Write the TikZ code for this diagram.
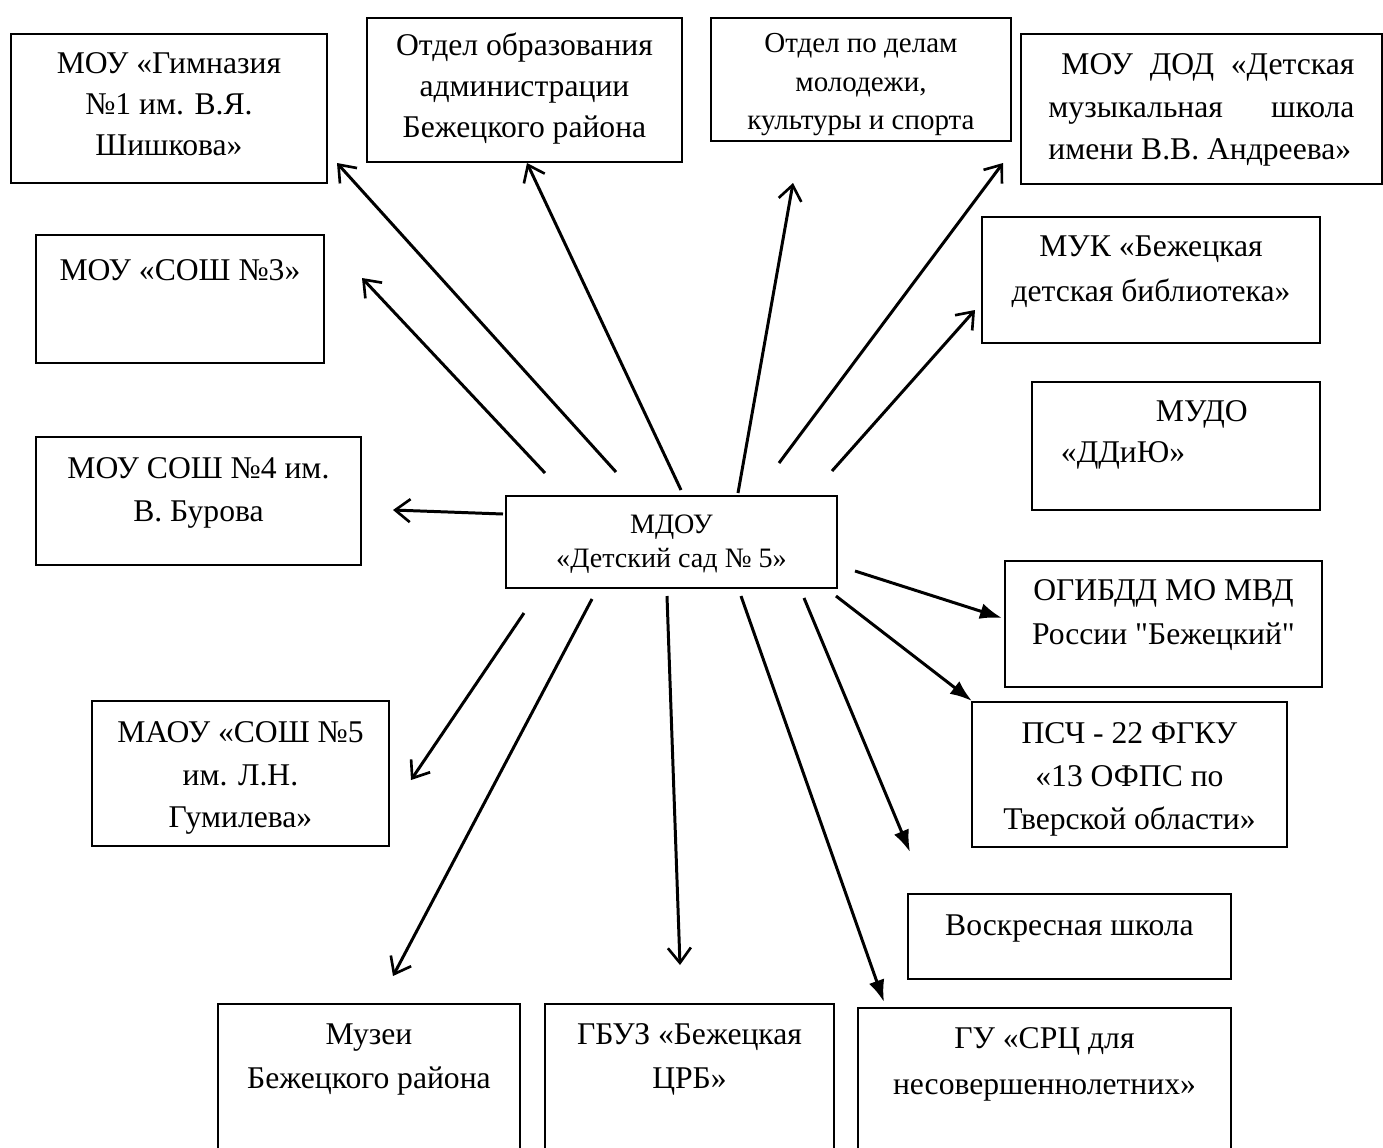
\documentclass[tikz,border=0pt]{standalone}
\usepackage{fontspec}
\setmainfont{Liberation Serif}[Ligatures=TeXOff]
\usetikzlibrary{arrows.meta}
\newlength\pxu \setlength\pxu{0.02cm}
% box text: width, height, first baseline (in px), text
\newcommand\orgtext[4]{\parbox[c][#2\pxu][t]{#1\pxu}{\centering\rule{0pt}{#3\pxu}#4\par}}
\begin{document}
\begin{tikzpicture}[x=0.02cm,y=-0.02cm,
  org/.style={draw,line width=1.1pt,anchor=north west,inner sep=0pt,font=\fontsize{18}{41\pxu}\selectfont},
  link/.style={line width=1.7pt,-{Straight Barb[length=0.3cm,width=0.46cm,line width=1.5pt]}},
  push/.style={line width=1.7pt,-{Latex[length=0.44cm,width=0.32cm]}}]
\useasboundingbox (0,0) rectangle (1383,1147);
%центр
\node[org,font=\fontsize{16}{34\pxu}\selectfont] (mdou) at (505,495) {\orgtext{331}{92}{38}{МДОУ\\«Детский сад № 5»}};
%слева
\node[org] (gym) at (10,33) {\orgtext{316}{149}{40}{МОУ «Гимназия\\№1 им. В.Я.\\Шишкова»}};
\node[org] (sosh3) at (35,234) {\orgtext{288}{128}{46}{МОУ «СОШ №3»}};
\node[org,font=\fontsize{18}{43\pxu}\selectfont] (sosh4) at (35,436) {\orgtext{325}{128}{42}{МОУ СОШ №4 им.\\В. Бурова}};
\node[org,font=\fontsize{18}{42.5\pxu}\selectfont] (maou) at (91,700) {\orgtext{297}{145}{42}{МАОУ «СОШ №5\\им. Л.Н.\\Гумилева»}};
%сверху
\node[org] (obr) at (366,17) {\orgtext{315}{144}{38}{Отдел образования\\администрации\\Бежецкого района}};
\node[org,font=\fontsize{16.5}{38.5\pxu}\selectfont] (mol) at (710,17) {\orgtext{300}{123}{35}{Отдел по делам\\молодежи,\\культуры и спорта}};
\node[org,font=\fontsize{18}{42.5\pxu}\selectfont] (dod) at (1020,33) {\orgtext{361}{150}{41}{\hspace*{13\pxu}\makebox[293\pxu][s]{МОУ ДОД «Детская}\\\makebox[306\pxu][s]{музыкальная школа}\\\makebox[306\pxu][l]{имени В.В. Андреева»}}};
%справа
\node[org,font=\fontsize{18}{45\pxu}\selectfont] (muk) at (981,216) {\orgtext{338}{126}{40}{МУК «Бежецкая\\детская библиотека»}};
\node[org] (mudo) at (1031,381) {\orgtext{288}{128}{40}{\makebox[288\pxu][l]{\hspace{124\pxu}МУДО}\\\makebox[288\pxu][l]{\hspace{29\pxu}«ДДиЮ»}}};
\node[org,font=\fontsize{18}{44\pxu}\selectfont] (gibdd) at (1004,560) {\orgtext{317}{126}{40}{ОГИБДД МО МВД\\России "Бежецкий"}};
\node[org,font=\fontsize{18}{43\pxu}\selectfont] (psch) at (971,701) {\orgtext{315}{145}{42}{ПСЧ - 22 ФГКУ\\«13 ОФПС по\\Тверской области»}};
\node[org] (vosk) at (907,893) {\orgtext{323}{85}{42}{Воскресная школа}};
%снизу
\node[org,font=\fontsize{18}{46\pxu}\selectfont] (src) at (857,1007) {\orgtext{373}{150}{41}{ГУ «СРЦ для\\несовершеннолетних»}};
\node[org,font=\fontsize{18}{44\pxu}\selectfont] (gbuz) at (544,1003) {\orgtext{289}{150}{41}{ГБУЗ «Бежецкая\\ЦРБ»}};
\node[org,font=\fontsize{18}{44\pxu}\selectfont] (muz) at (217,1003) {\orgtext{302}{150}{41}{Музеи\\Бежецкого района}};
%концы стрелок
\coordinate (gymS) at (616,472);  \coordinate (gymE) at (337,163);
\coordinate (sosh3S) at (545,473); \coordinate (sosh3E) at (362,278);
\coordinate (obrS) at (681,490);  \coordinate (obrE) at (527,163);
\coordinate (molS) at (738,493);  \coordinate (molE) at (793,183);
\coordinate (dodS) at (779,463);  \coordinate (dodE) at (1003,163);
\coordinate (mukS) at (832,471);  \coordinate (mukE) at (975,310);
\coordinate (sosh4S) at (503,514); \coordinate (sosh4E) at (393,510);
\coordinate (maouS) at (524,613); \coordinate (maouE) at (411,780);
\coordinate (muzS) at (592,599);  \coordinate (muzE) at (393,976);
\coordinate (gbuzS) at (667,596); \coordinate (gbuzE) at (680,965);
\coordinate (gibddS) at (855,571); \coordinate (gibddE) at (1002,618);
\coordinate (pschS) at (836,596); \coordinate (pschE) at (972,701);
\coordinate (voskS) at (804,598); \coordinate (voskE) at (910,852);
\coordinate (srcS) at (741,596);  \coordinate (srcE) at (884,1002);
%стрелки
\draw[link] (gymS) -- (gymE);
\draw[link] (sosh3S) -- (sosh3E);
\draw[link] (obrS) -- (obrE);
\draw[link] (molS) -- (molE);
\draw[link] (dodS) -- (dodE);
\draw[link] (mukS) -- (mukE);
\draw[link] (sosh4S) -- (sosh4E);
\draw[link] (maouS) -- (maouE);
\draw[link] (muzS) -- (muzE);
\draw[link] (gbuzS) -- (gbuzE);
\draw[push] (gibddS) -- (gibddE);
\draw[push] (pschS) -- (pschE);
\draw[push] (voskS) -- (voskE);
\draw[push] (srcS) -- (srcE);
\end{tikzpicture}
\end{document}
